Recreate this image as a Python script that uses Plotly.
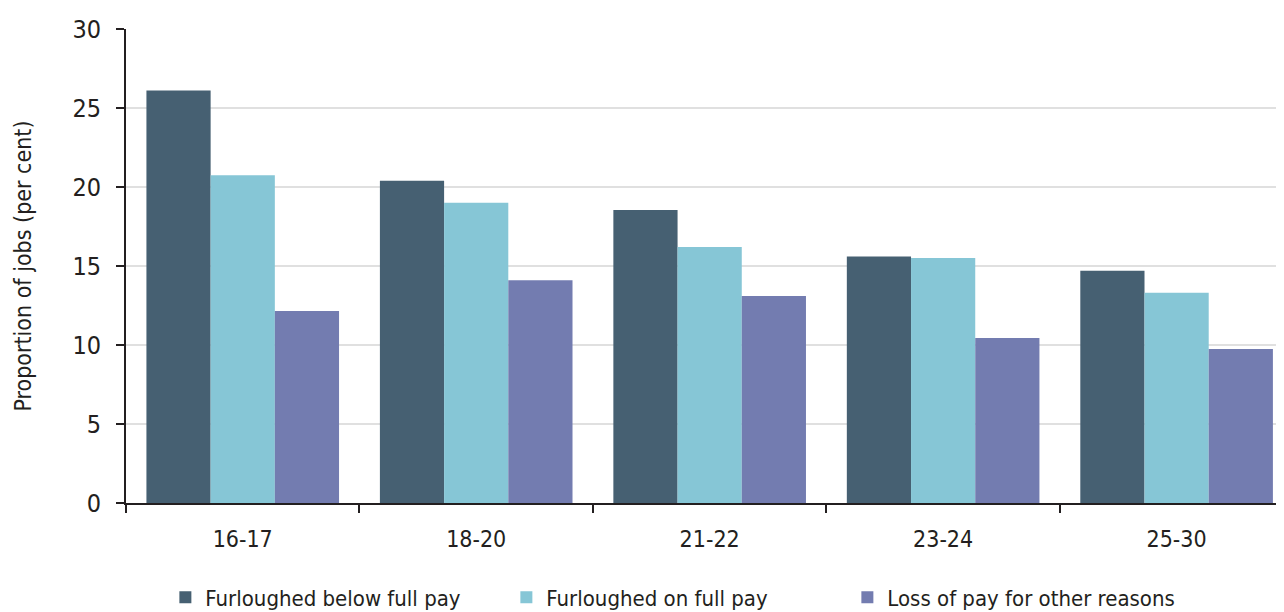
import plotly.graph_objects as go

categories = ["16-17", "18-20", "21-22", "23-24", "25-30"]
below_full_pay = [26.1, 20.4, 18.55, 15.6, 14.7]
on_full_pay = [20.75, 19.0, 16.2, 15.5, 13.3]
other_reasons = [12.15, 14.1, 13.1, 10.45, 9.75]
series_names = ["Furloughed below full pay", "Furloughed on full pay", "Loss of pay for other reasons"]
colors = ["#466072", "#86C6D6", "#737CB0"]

FONT = "Liberation Sans Narrow, DejaVu Sans Condensed, Roboto, sans-serif"

fig = go.Figure()
for name, vals, col in zip(series_names, [below_full_pay, on_full_pay, other_reasons], colors):
    fig.add_trace(go.Bar(x=categories, y=vals, name=name, marker_color=col,
                         marker_line_width=0))

# page body adds an 8px offset, so the figure is sized/positioned to compensate
fig.update_layout(
    width=1276, height=604,
    margin=dict(l=118, r=0, t=21, b=109, autoexpand=False),
    paper_bgcolor="white", plot_bgcolor="white",
    barmode="group", bargap=0.175, bargroupgap=0,
    font=dict(family=FONT, size=23, color="#231f20"),
    legend=dict(orientation="h", x=0.034, xanchor="left", y=-0.155, yanchor="top",
                font=dict(size=22), itemwidth=30,
                entrywidth=296, entrywidthmode="pixels"),
    showlegend=True,
)
fig.update_xaxes(
    type="category", range=[-0.5, 4.46], automargin=False,
    showline=True, linecolor="#231f20", linewidth=2,
    ticks="outside", tickson="boundaries", ticklen=8, tickwidth=2, tickcolor="#231f20",
    showgrid=False, tickfont=dict(size=23), ticklabelstandoff=14,
)
fig.update_yaxes(
    range=[0, 30], dtick=5, automargin=False,
    showline=True, linecolor="#231f20", linewidth=2,
    ticks="outside", ticklen=8, tickwidth=2, tickcolor="#231f20",
    showgrid=True, gridcolor="#e0e0e0", gridwidth=2,
    zeroline=False, tickfont=dict(size=25), ticklabelstandoff=10,
    title=dict(text="Proportion of jobs (per cent)", font=dict(size=23), standoff=34),
)

fig.write_html("out.html")
